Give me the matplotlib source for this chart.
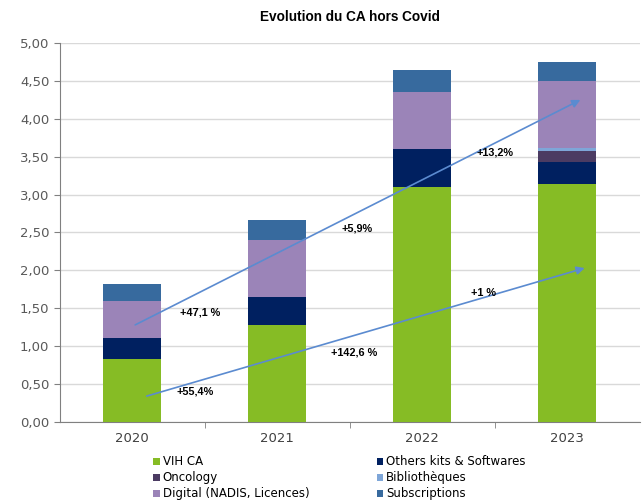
import numpy as np
import matplotlib
matplotlib.use("Agg")
import matplotlib.pyplot as plt
from matplotlib.ticker import FuncFormatter

years = ["2020", "2021", "2022", "2023"]
series = ["VIH CA", "Others kits & Softwares", "Oncology", "Bibliothèques",
          "Digital (NADIS, Licences)", "Subscriptions"]
vih = [0.83, 1.28, 3.10, 3.14]
others = [0.28, 0.37, 0.50, 0.29]
oncology = [0.00, 0.00, 0.00, 0.15]
biblio = [0.00, 0.00, 0.00, 0.04]
digital = [0.49, 0.75, 0.76, 0.88]
subs = [0.22, 0.26, 0.28, 0.25]
colors = ["#86BC25", "#002060", "#4B3B62", "#7EA6D8", "#9B84B8", "#376A9E"]

# trend arrows (start x, start y, end x, end y) in data units
arrow_low = (0.10, 0.34, 3.12, 2.03)
arrow_high = (0.02, 1.28, 3.09, 4.25)
growth_labels = ["+47,1 %", "+55,4%", "+142,6 %", "+5,9%", "+1 %", "+13,2%"]
growth_x = [0.47, 0.43, 1.53, 1.55, 2.42, 2.50]
growth_y = [1.44, 0.40, 0.92, 2.55, 1.70, 3.55]

fig = plt.figure(figsize=(6.43, 5.01), dpi=100)
ax = fig.add_axes([0.093, 0.158, 0.902, 0.756])

x = np.arange(len(years))
bottom = np.zeros(len(years))
for name, vals, c in zip(series, [vih, others, oncology, biblio, digital, subs], colors):
    ax.bar(x, vals, 0.4, bottom=bottom, color=c, label=name, zorder=3)
    bottom += np.array(vals)

for a in (arrow_low, arrow_high):
    ax.annotate("", xy=(a[2], a[3]), xytext=(a[0], a[1]),
                arrowprops=dict(arrowstyle="-|>", color="#5B8BD0", lw=1.2,
                                mutation_scale=12, shrinkA=0, shrinkB=0),
                zorder=4)
for t, gx, gy in zip(growth_labels, growth_x, growth_y):
    ax.text(gx, gy, t, ha="center", va="center", fontsize=7.8, fontweight="bold",
            family="Liberation Sans", zorder=5)

ax.set_xlim(-0.5, 3.5)
ax.set_ylim(0, 5)
ax.set_yticks(np.arange(0, 5.01, 0.5))
ax.yaxis.set_major_formatter(FuncFormatter(lambda v, p: f"{v:.2f}".replace(".", ",")))
ax.set_xticks(x)
ax.set_xticklabels(years)
ax.set_xticks([0.5, 1.5, 2.5], minor=True)
ax.tick_params(axis="x", which="major", length=0, pad=7, labelsize=9.5, colors="#404040")
ax.tick_params(axis="x", which="minor", length=4, color="#808080")
ax.tick_params(axis="y", length=4, color="#808080", labelsize=9.5, labelcolor="#595959")
ax.grid(axis="y", color="#D9D9D9", lw=1, zorder=0)
for s in ("top", "right"):
    ax.spines[s].set_visible(False)
for s in ("left", "bottom"):
    ax.spines[s].set_color("#808080")

ax.set_title("Evolution du CA hors Covid", fontsize=9.8, fontweight="bold",
             family="Liberation Sans", pad=16)

# legend fills row by row in the reference
handles, labels = ax.get_legend_handles_labels()
order = [0, 2, 4, 1, 3, 5]
fig.legend([handles[i] for i in order], [labels[i] for i in order],
           loc="lower left", bbox_to_anchor=(0.222, -0.02), ncol=2, frameon=False,
           fontsize=8.5, handlelength=0.55, handleheight=0.55, handletextpad=0.25,
           columnspacing=5.7, labelspacing=0.25)

fig.savefig("out.png", dpi=100)
